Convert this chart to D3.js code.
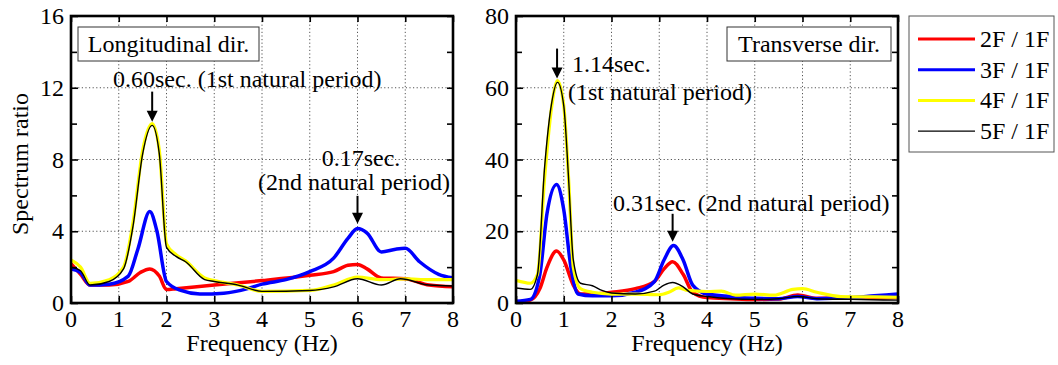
<!DOCTYPE html>
<html lang="en">
<head>
<meta charset="UTF-8">
<title>Spectrum ratio</title>
<script src="https://cdn.jsdelivr.net/npm/d3@7"></script>
<style>
  body { margin: 0; background: #fff; }
  svg { font-family: "Liberation Serif", "Times New Roman", serif; }
  .grid line { stroke: #555; stroke-width: 1; stroke-dasharray: 1.2,2.4; }
  .series { fill: none; stroke-linejoin: round; stroke-linecap: round; }
</style>
</head>
<body>
<div id="chart"></div>
<script>
// series names / colors
const seriesNames = ['2F / 1F', '3F / 1F', '4F / 1F', '5F / 1F']
const seriesColors = ['#ff0000', '#0000ff', '#ffff00', '#000000']
const seriesWidths = [3.5, 3.5, 3.2, 1.4]

// ---- Longitudinal dir. (left) ----
const lonF2 = [0, 0.2, 0.4, 0.8, 1.2, 1.45, 1.65, 1.85, 2.0, 2.2, 3, 4, 5, 5.5, 5.8, 6.0, 6.2, 6.5, 7.0, 7.5, 8]
const lonV2 = [2.2, 1.6, 1.0, 1.0, 1.2, 1.7, 1.9, 1.5, 0.75, 0.8, 1.0, 1.25, 1.55, 1.75, 2.1, 2.15, 1.9, 1.4, 1.35, 1.0, 0.9]

const lonF3 = [0, 0.2, 0.4, 0.8, 1.2, 1.4, 1.65, 1.8, 2.0, 2.3, 2.7, 3.2, 3.7, 4.0, 4.5, 5.0, 5.5, 5.8, 6.0, 6.2, 6.5, 6.8, 7.0, 7.3, 7.7, 8]
const lonV3 = [1.9, 1.7, 1.0, 1.05, 1.5, 3.0, 5.1, 4.0, 1.2, 0.7, 0.5, 0.55, 0.8, 1.05, 1.3, 1.75, 2.5, 3.6, 4.15, 3.9, 2.85, 3.0, 3.05, 2.3, 1.6, 1.4]

const lonF4 = [0, 0.2, 0.4, 0.8, 1.1, 1.3, 1.5, 1.7, 1.85, 2.0, 2.2, 2.4, 2.8, 3.0, 3.5, 4.0, 5.0, 5.5, 6.0, 6.5, 7.0, 7.5, 8]
const lonV4 = [2.4, 2.0, 1.1, 1.3, 2.0, 4.5, 8.5, 10.0, 8.5, 3.3, 2.7, 2.35, 1.4, 1.25, 1.0, 0.65, 0.7, 1.0, 1.45, 1.3, 1.35, 1.3, 1.3]

const lonF5 = [0, 0.2, 0.4, 0.8, 1.1, 1.3, 1.5, 1.7, 1.85, 2.0, 2.2, 2.4, 2.8, 3.0, 3.5, 4.0, 5.0, 5.5, 6.0, 6.5, 6.9, 7.5, 8]
const lonV5 = [2.0, 1.8, 1.0, 1.2, 1.9, 4.3, 8.3, 9.9, 8.3, 3.1, 2.6, 2.3, 1.3, 1.2, 1.0, 0.65, 0.7, 0.9, 1.35, 1.0, 1.35, 1.0, 0.95]

// ---- Transverse dir. (right) ----
const traF2 = [0, 0.3, 0.5, 0.65, 0.85, 1.0, 1.2, 1.35, 1.6, 2.0, 2.5, 2.9, 3.1, 3.28, 3.5, 3.7, 4.0, 4.5, 5.0, 5.5, 5.9, 6.3, 7.0, 8]
const traV2 = [0.3, 0.8, 4, 10, 14.5, 12, 5, 2.5, 2.5, 3, 4, 6, 9.5, 11.5, 8, 3, 1.5, 1.2, 1.0, 1.1, 2.2, 1.3, 1.3, 1.5]

const traF3 = [0, 0.3, 0.5, 0.65, 0.85, 1.0, 1.15, 1.3, 1.6, 2.0, 2.5, 2.9, 3.1, 3.3, 3.5, 3.7, 4.0, 4.5, 5.0, 5.5, 5.9, 6.3, 7.0, 7.5, 8]
const traV3 = [0.5, 1.0, 8, 25, 33, 26, 10, 2.5, 2.0, 2.0, 3, 6, 12, 16, 12, 5, 2.5, 1.8, 1.3, 1.2, 1.8, 1.2, 1.5, 2.0, 2.5]

const traF4 = [0, 0.3, 0.45, 0.6, 0.75, 0.87, 1.0, 1.1, 1.2, 1.35, 1.6, 2.0, 2.5, 3.0, 3.2, 3.4, 3.6, 4.0, 4.3, 4.6, 5.0, 5.4, 5.8, 6.0, 6.3, 6.8, 7.5, 8]
const traV4 = [6.3, 5.5, 8, 35, 55, 62, 55, 35, 10, 4, 3, 2.5, 2.5, 2.3, 3, 4.2, 3.5, 3.2, 3.3, 2.2, 2.5, 2.2, 3.8, 4.0, 3.0, 1.8, 1.7, 1.6]

const traF5 = [0, 0.3, 0.45, 0.6, 0.75, 0.87, 1.0, 1.1, 1.2, 1.35, 1.6, 1.8, 2.0, 2.5, 2.9, 3.1, 3.28, 3.5, 3.7, 4.0, 4.5, 5.0, 5.5, 5.9, 6.3, 7.0, 8]
const traV5 = [4.2, 3.8, 8, 38, 56, 61.5, 55, 35, 12, 5.5, 4.8, 3.5, 2.8, 2.5, 3.3, 5, 5.7, 4.5, 2.5, 1.8, 1.2, 1.0, 1.2, 1.8, 1.2, 1.0, 0.8]

// axis ticks
const xTicks = [0, 1, 2, 3, 4, 5, 6, 7, 8]
const lonYTicks = [0, 4, 8, 12, 16]
const traYTicks = [0, 20, 40, 60, 80]

const width = 1058, height = 365, fs = 24
const svg = d3.select('#chart').append('svg').attr('width', width).attr('height', height)
svg.append('rect').attr('width', width).attr('height', height).attr('fill', '#fff')

function panel(cfg) {
  const x = d3.scaleLinear().domain([0, 8]).range([cfg.left, cfg.right])
  const y = d3.scaleLinear().domain([0, cfg.yMax]).range([303, 16])
  const g = svg.append('g')

  // grid
  const grid = g.append('g').attr('class', 'grid')
  grid.selectAll('.gx').data(xTicks.slice(1, -1)).enter().append('line')
    .attr('x1', d => x(d)).attr('x2', d => x(d)).attr('y1', y(0)).attr('y2', y(cfg.yMax))
  grid.selectAll('.gy').data(cfg.yTicks.slice(1, -1)).enter().append('line')
    .attr('x1', x(0)).attr('x2', x(8)).attr('y1', d => y(d)).attr('y2', d => y(d))

  // series
  const clipId = 'clip' + cfg.id
  svg.append('clipPath').attr('id', clipId).append('rect')
    .attr('x', x(0)).attr('y', y(cfg.yMax)).attr('width', x(8) - x(0)).attr('height', y(0) - y(cfg.yMax))
  const line = d3.line().x(d => x(d[0])).y(d => y(d[1])).curve(d3.curveMonotoneX)
  cfg.series.forEach((s, i) => {
    const pts = d3.zip(s[0], s[1])
    g.append('path').attr('class', 'series').attr('clip-path', `url(#${clipId})`)
      .attr('d', line(pts)).attr('stroke', seriesColors[i]).attr('stroke-width', seriesWidths[i])
  })

  // axes with inward ticks, on all four sides
  const step = cfg.yTicks[1] / 2
  const minor = d3.range(step, cfg.yMax, step * 2)
  g.append('g').attr('transform', `translate(${x(0)},0)`)
    .call(d3.axisRight(y).tickValues(minor).tickSize(6).tickFormat(''))
  g.append('g').attr('transform', `translate(${x(8)},0)`)
    .call(d3.axisLeft(y).tickValues(cfg.yTicks.concat(minor)).tickSize(6).tickFormat(''))
  g.append('g').attr('transform', `translate(${x(0)},0)`)
    .call(d3.axisRight(y).tickValues(cfg.yTicks).tickSize(7).tickFormat(''))
  g.append('g').attr('transform', `translate(0,${y(0)})`)
    .call(d3.axisTop(x).tickValues(xTicks).tickSize(7).tickFormat(''))
  g.append('g').attr('transform', `translate(0,${y(cfg.yMax)})`)
    .call(d3.axisBottom(x).tickValues(xTicks).tickSize(6).tickFormat(''))
  g.selectAll('.domain').remove()
  g.selectAll('.tick line').attr('stroke', '#000').attr('stroke-width', 1.6)

  g.append('rect').attr('x', x(0)).attr('y', y(cfg.yMax))
    .attr('width', x(8) - x(0)).attr('height', y(0) - y(cfg.yMax))
    .attr('fill', 'none').attr('stroke', '#000').attr('stroke-width', 2.6)

  // tick labels
  g.selectAll('.xl').data(xTicks).enter().append('text')
    .attr('x', d => x(d)).attr('y', 327).attr('text-anchor', 'middle')
    .attr('font-size', fs).text(d => d)
  g.selectAll('.yl').data(cfg.yTicks).enter().append('text')
    .attr('x', x(0) - 7).attr('y', d => y(d) + 8).attr('text-anchor', 'end')
    .attr('font-size', fs).text(d => d)

  g.append('text').attr('x', (x(0) + x(8)) / 2).attr('y', 351).attr('text-anchor', 'middle')
    .attr('font-size', fs).text('Frequency (Hz)')

  // title box
  g.append('rect').attr('x', cfg.box[0]).attr('y', 27).attr('width', cfg.box[1]).attr('height', 34)
    .attr('fill', '#fff').attr('stroke', '#333').attr('stroke-width', 1)
  g.append('text').attr('x', cfg.box[0] + cfg.box[1] / 2).attr('y', 52).attr('text-anchor', 'middle')
    .attr('font-size', fs).text(cfg.title)

  // annotations
  cfg.notes.forEach(n => {
    g.append('text').attr('x', n.x).attr('y', n.y).attr('text-anchor', n.anchor || 'start')
      .attr('font-size', fs).text(n.text)
  })
  cfg.arrows.forEach(a => {
    const ax = x(a.f), tip = y(a.v) - 2
    g.append('line').attr('x1', ax).attr('x2', ax).attr('y1', tip - a.len).attr('y2', tip - 8)
      .attr('stroke', '#000').attr('stroke-width', 2)
    g.append('path').attr('d', `M${ax - 5.5},${tip - 11}L${ax + 5.5},${tip - 11}L${ax},${tip}Z`).attr('fill', '#000')
  })
  return { x, y }
}

panel({
  id: 'L', left: 71, right: 453, yMax: 16, yTicks: lonYTicks,
  series: [[lonF2, lonV2], [lonF3, lonV3], [lonF4, lonV4], [lonF5, lonV5]],
  title: 'Longitudinal dir.', box: [78, 181],
  notes: [
    { x: 113, y: 87, text: '0.60sec. (1st natural period)' },
    { x: 361, y: 166, text: '0.17sec.', anchor: 'middle' },
    { x: 354, y: 190, text: '(2nd natural period)', anchor: 'middle' }
  ],
  arrows: [{ f: 1.7, v: 10.0, len: 30 }, { f: 6.0, v: 4.3, len: 28 }]
})

panel({
  id: 'R', left: 516, right: 898, yMax: 80, yTicks: traYTicks,
  series: [[traF2, traV2], [traF3, traV3], [traF4, traV4], [traF5, traV5]],
  title: 'Transverse dir.', box: [727, 164],
  notes: [
    { x: 572, y: 72, text: '1.14sec.' },
    { x: 568, y: 100, text: '(1st natural period)' },
    { x: 613, y: 211, text: '0.31sec. (2nd natural period)' }
  ],
  arrows: [{ f: 0.86, v: 62, len: 30 }, { f: 3.28, v: 16.5, len: 28 }]
})

// y label
svg.append('text').attr('transform', 'translate(28,164) rotate(-90)').attr('text-anchor', 'middle')
  .attr('font-size', fs).text('Spectrum ratio')

// legend
const leg = svg.append('g')
leg.append('rect').attr('x', 909).attr('y', 16).attr('width', 145).attr('height', 136)
  .attr('fill', '#fff').attr('stroke', '#555').attr('stroke-width', 1)
seriesNames.forEach((name, i) => {
  const yy = 39 + i * 30.7
  leg.append('line').attr('x1', 918).attr('x2', 975).attr('y1', yy).attr('y2', yy)
    .attr('stroke', seriesColors[i]).attr('stroke-width', i === 3 ? 1.4 : 3)
  leg.append('text').attr('x', 980).attr('y', yy + 8).attr('font-size', fs).text(name)
})
</script>
</body>
</html>
